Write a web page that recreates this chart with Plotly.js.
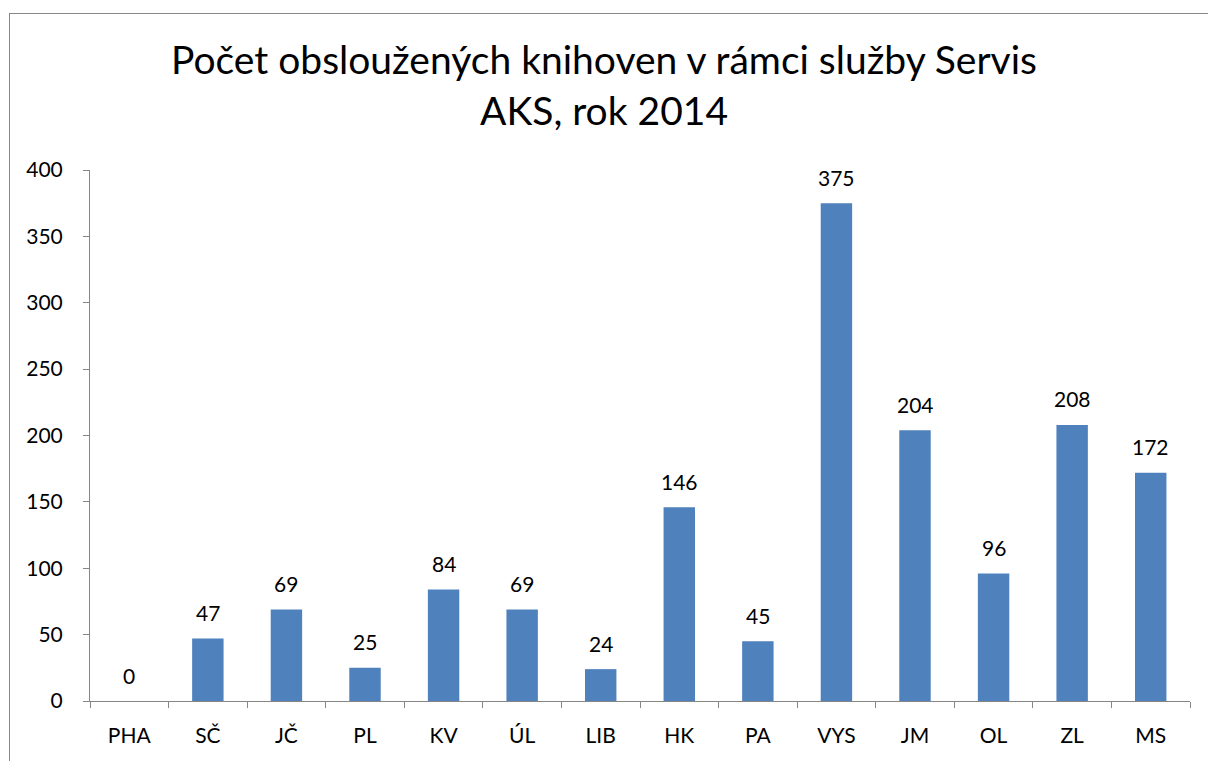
<!DOCTYPE html>
<html><head><meta charset="utf-8">
<script src="https://cdn.plot.ly/plotly-3.0.1.min.js"></script>
<style>
html,body{margin:0;padding:0;background:#fff;}
#wrap{position:relative;width:1208px;height:761px;overflow:hidden;}
#chart{position:absolute;left:0;top:0;width:1208px;height:761px;}
#frame{position:absolute;left:9px;top:13px;width:1400px;height:900px;border-left:1px solid #878787;border-top:1px solid #878787;pointer-events:none;}
</style></head>
<body><div id="wrap"><div id="chart"></div><div id="frame"></div></div>
<script>
const categories = ["PHA","SČ","JČ","PL","KV","ÚL","LIB","HK","PA","VYS","JM","OL","ZL","MS"];
const values = [0,47,69,25,84,69,24,146,45,375,204,96,208,172];
const yTicks = [0,50,100,150,200,250,300,350,400];
const titleText = "Počet obsloužených knihoven v rámci služby Servis<br>AKS, rok 2014";
const FONT = "Lato, 'Open Sans', sans-serif";

const annotations = categories.map((c,i)=>({
  x:c, y:values[i], xref:'x', yref:'y', text:String(values[i]),
  showarrow:false, yshift:26, font:{family:FONT,size:21,color:'#000'}
}));

Plotly.newPlot('chart',[{
  type:'bar', x:categories, y:values,
  marker:{color:'#4F81BD'}, hoverinfo:'none'
}],{
  width:1208,height:761,
  margin:{l:90,r:18,t:170,b:60},
  paper_bgcolor:'#fff',plot_bgcolor:'#fff',
  bargap:0.6,
  title:{text:titleText,font:{family:FONT,size:39,color:'#000'},x:0.5,xanchor:'center',y:0.903,yanchor:'top'},
  font:{family:FONT,size:21,color:'#000'},
  xaxis:{type:'category',tickson:'boundaries',ticks:'outside',ticklen:6,tickcolor:'#868686',
    showline:true,linecolor:'#868686',linewidth:1,showgrid:false,zeroline:false,
    tickfont:{family:FONT,size:21,color:'#000'},automargin:false,ticklabelstandoff:16},
  yaxis:{range:[0,400],tickvals:yTicks,ticks:'outside',ticklen:6,tickcolor:'#868686',
    showline:true,linecolor:'#868686',linewidth:1,showgrid:false,zeroline:false,
    tickfont:{family:FONT,size:21,color:'#000'},automargin:false,ticklabelstandoff:16},
  annotations:annotations,
  showlegend:false
},{staticPlot:true});
</script></body></html>
